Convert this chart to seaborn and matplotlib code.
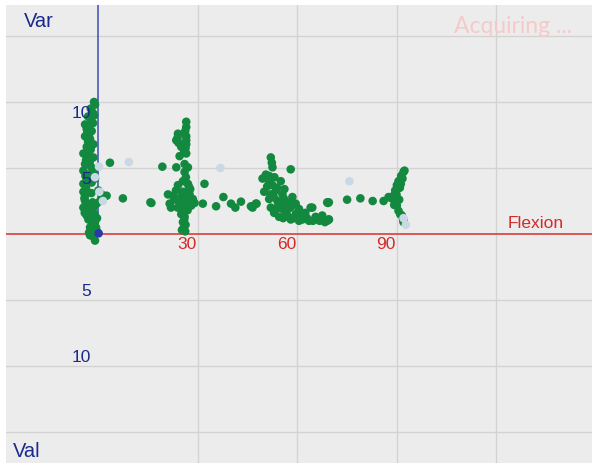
import numpy as np
import pandas as pd
import matplotlib
matplotlib.use("Agg")
import matplotlib.pyplot as plt
import seaborn as sns

# ---- data (Flexion, Var/Val) ----
flex_a = [-0.9, -1.2, -1.6, -2.2, -3.0, -2.0, -3.9, -3.4, -1.9, -2.8, -3.9, -2.4, -3.0, -1.4,
          -3.4, -2.2, -4.4, -2.9, -1.4, -3.6, -3.9, -2.4, -1.8, -4.4, -2.9, -0.9, -1.9, -4.4,
          -3.6, -4.4, -3.9, -3.9, -4.4, -2.9, -1.4, -0.4, 0.6, 1.6, 1.1, 0.1, -2.4, -1.9, -2.9,
          -0.9, -2.4, -1.9, -1.4, -2.4, -0.9, -0.4, -3.4, -4.0, -1.0, -0.3, -1.6, -2.0, -3.0, -3.4,
          -1.1, -1.5, -2.6, -3.2, -2.5, -1.2, -3.8, -4.1, -3.1, -1.7, -0.6, -2.7]
var_a = [9.8, 10.0, 9.2, 9.5, 8.9, 8.6, 8.3, 7.95, 7.8, 8.1, 7.4, 7.2, 7.0, 6.8,
         6.6, 6.4, 6.1, 5.9, 5.8, 5.6, 5.3, 5.2, 5.0, 4.8, 4.5, 4.2, 3.9, 3.8,
         3.5, 3.2, 2.9, 2.5, 2.0, 1.8, 2.0, 2.3, 2.5, 2.8, 3.0, 3.3, 1.5, 1.0, 1.1,
         0.9, 0.5, 0.15, -0.2, -0.1, -0.5, 0.25, 1.4, 1.6, 1.5, 1.2, 2.4, 3.1, 3.9, 4.2,
         9.0, 8.4, 7.6, 7.7, 5.5, 4.6, 4.4, 2.7, 2.2, 0.7, 0.5, 0.1]

flex_b = [26.6, 26.6, 26.3, 24.1, 26.1, 23.6, 26.6, 24.3, 25.1, 26.4, 24.6, 26.6, 23.6, 26.1,
          27.1, 26.1, 25.6, 27.1, 26.5, 32.1, 24.1, 21.1, 22.6, 25.6, 27.6, 28.6, 24.6, 26.6,
          31.6, 21.6, 28.1, 25.6, 27.0, 25.1, 26.1, 25.6, 25.9, 26.3, 25.3, 23.0, 27.8, 26.8,
          24.0, 29.1, 22.0, 26.6, 26.6, 24.0, 26.0, 27.4, 28.0, 25.0, 23.5, 26.0, 26.4, 25.8]
var_b = [8.5, 8.1, 7.8, 7.6, 7.6, 7.1, 7.1, 6.9, 6.6, 6.5, 5.9, 6.1, 5.05, 5.3,
         5.05, 4.7, 4.0, 3.8, 4.3, 3.8, 3.7, 3.0, 2.9, 3.2, 3.0, 2.65, 2.5, 2.4,
         2.3, 2.3, 2.15, 2.0, 1.8, 1.5, 1.3, 0.9, 0.5, 0.2, 0.3, 2.6, 3.4, 2.8,
         2.0, 2.35, 2.0, 7.4, 6.8, 7.3, 6.2, 3.6, 2.4, 2.8, 3.3, 1.1, 0.7, 1.7]

flex_gap = [3.6, 2.6, 7.5, 15.8, 19.4, 16.1, 35.6, 37.8, 40.1, 41.4, 43.1, 46.1, 47.8,
            75.1, 79.1, 82.8, 86.1]
var_gap = [5.4, 2.9, 2.7, 2.4, 5.1, 2.35, 2.1, 2.8, 2.3, 2.0, 2.45, 2.1, 2.3,
           2.6, 2.7, 2.5, 2.5]

flex_c = [52.1, 52.4, 52.6, 58.1, 50.6, 51.6, 49.6, 55.1, 51.6, 52.6, 53.6, 50.1, 55.6, 58.6,
          51.6, 54.1, 56.6, 59.6, 47.6, 69.1, 46.6, 52.1, 55.6, 58.1, 60.6, 64.1, 53.1, 56.6,
          59.6, 62.1, 54.6, 58.1, 65.6, 67.6, 60.6, 63.6, 69.1, 64.6, 69.3, 67.6, 69.6, 52.0,
          53.0, 57.0, 61.0, 66.0, 62.5, 56.0, 54.0, 69.6, 69.6, 51.0, 53.2, 54.4, 55.8, 57.4,
          59.0, 60.0, 61.6, 63.0, 64.8, 66.8, 68.4, 57.8, 53.8, 56.2]
var_c = [5.8, 5.4, 5.05, 4.9, 4.5, 4.4, 4.2, 4.0, 3.9, 3.7, 3.3, 3.2, 3.0, 2.8,
         2.65, 2.5, 2.4, 2.3, 2.3, 2.4, 2.0, 2.0, 1.9, 2.0, 1.9, 2.0, 1.6, 1.5,
         1.5, 1.4, 1.3, 1.1, 1.3, 1.1, 1.0, 1.0, 1.0, 2.0, 2.35, 1.4, 1.1, 3.0,
         2.8, 1.8, 1.3, 1.2, 1.6, 2.7, 3.5, 2.4, 1.1, 3.6, 4.3, 2.2, 1.2, 1.3,
         1.2, 1.5, 1.1, 1.2, 1.0, 1.0, 0.9, 2.4, 1.9, 3.4]

flex_d = [87.6, 89.1, 89.6, 90.1, 90.6, 91.4, 92.1, 92.4, 89.6, 90.1, 90.6, 91.1, 91.6, 92.1,
          88.5, 90.0, 91.0, 91.8, 90.8, 89.3, 91.3, 92.0]
var_d = [2.8, 2.9, 3.3, 3.7, 4.0, 4.4, 4.7, 4.8, 2.5, 2.15, 1.75, 1.5, 1.4, 0.9,
         2.7, 3.0, 3.5, 4.2, 2.6, 2.2, 3.8, 1.1]

flex_light = [0.3, 9.3, -0.9, 0.4, 1.5, 36.9, 75.8, 92.1, 92.8]
var_light = [5.1, 5.45, 4.3, 3.2, 2.5, 5.0, 4.0, 1.2, 0.7]

flex_now = [0.2]
var_now = [0.05]

x_ticks = [30, 60, 90]
y_ticks = [5, 10]

# ---- frame ----
green_x = flex_a + flex_b + flex_gap + flex_c + flex_d
green_y = var_a + var_b + var_gap + var_c + var_d
df = pd.DataFrame({
    "Flexion": green_x + flex_light + flex_now,
    "Var": green_y + var_light + var_now,
    "kind": ["sample"] * len(green_x) + ["old"] * len(flex_light) + ["now"] * len(flex_now),
})

sns.set_theme(style="white")
plt.rcParams["font.family"] = ["Liberation Sans", "DejaVu Sans"]

fig = plt.figure(figsize=(6.0, 4.69), dpi=100, facecolor="white")
ax = fig.add_axes([6 / 600, 6 / 469, 586 / 600, 458 / 469])
ax.set_facecolor("#ececec")
for s in ax.spines.values():
    s.set_visible(False)

x0, px = 98.0, 3.317   # origin pixel, pixels per unit
y0, py = 235.0, 13.2
ax.set_xlim((6 - x0) / px, (592 - x0) / px)
ax.set_ylim((y0 - 464) / py, (y0 - 6) / py)

grid_c = "#d3d3d3"
for v in [30, 60, 90, 120]:
    ax.axvline(v, color=grid_c, lw=1.0, zorder=0)
for v in [-15, -10, -5, 5, 10, 15]:
    ax.axhline(v, color=grid_c, lw=1.0, zorder=0)

ax.axhline(0, color="#d63030", lw=1.1, zorder=1)
ax.plot([0, 0], [0, ax.get_ylim()[1]], color="#3a4cb0", lw=1.1, zorder=1)

pal = {"sample": "#12893f", "old": "#c9d8e5", "now": "#2a3aa8"}
sns.scatterplot(data=df, x="Flexion", y="Var", hue="kind", palette=pal,
                s=38, linewidth=0, legend=False, ax=ax, zorder=3)

ax.set_xticks([])
ax.set_yticks([])
ax.set_xlabel("")
ax.set_ylabel("")

red = "#d42a2a"
blue = "#1a2a8c"
for v in x_ticks:
    ax.text(v - 0.3, -0.25, str(v), color=red, fontsize=12.5, ha="right", va="top")
for v in y_ticks:
    ax.text(-2.0, v - 0.3, str(v), color=blue, fontsize=12.5, ha="right", va="top")
    ax.text(-2.0, -v + 0.1, str(v), color=blue, fontsize=12.5, ha="right", va="bottom")

ax.text(123.5, 0.2, "Flexion", color=red, fontsize=12.5, ha="left", va="bottom")
ax.text(0.03, 0.985, "Var", color=blue, fontsize=14.5, ha="left", va="top",
        transform=ax.transAxes)
ax.text(0.012, 0.005, "Val", color=blue, fontsize=14.5, ha="left", va="bottom",
        transform=ax.transAxes)
ax.text(0.966, 0.975, "Acquiring ...", color="#f7c9c9", fontsize=16.5, ha="right", va="top",
        family=["Lato", "DejaVu Sans"], transform=ax.transAxes)

fig.savefig("out.png", dpi=100, facecolor="white")
